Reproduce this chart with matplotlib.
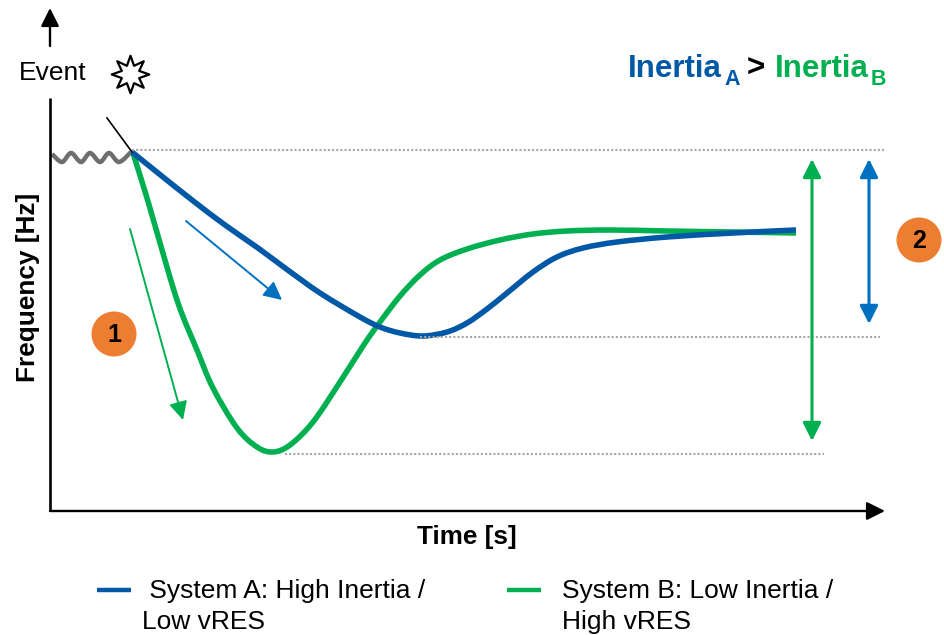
import matplotlib
matplotlib.use("Agg")
import matplotlib.pyplot as plt
from matplotlib.path import Path
from matplotlib.patches import PathPatch, Circle

# values, in image pixels (y grows downwards)
time_a = [132, 158, 192, 225, 258, 285, 320, 360, 380, 400, 423, 447, 467, 487, 507, 533, 557, 583,
          617, 667, 733, 796]
freq_a = [152, 173, 200, 225, 248, 268, 293, 317, 327, 333, 336, 332, 323, 309, 293, 272, 257, 248,
          242, 237, 233, 230]
time_b = [133, 147, 158, 178, 197, 213, 237, 257, 273, 290, 313, 340, 365, 380, 400, 420, 440, 467,
          500, 533, 567, 610, 667, 733, 796]
freq_b = [153, 198, 236, 303, 350, 388, 428, 447, 452, 445, 422, 382, 343, 322, 296, 275, 260, 249,
          240, 234, 231, 230, 231, 232, 233]
wave_x = [52, 62, 71, 81, 90, 100, 109, 119, 131]
wave_y = [154, 162, 153, 162, 153, 162, 153, 162, 152]

label_a = " System A: High Inertia /\nLow vRES"
label_b = "System B: Low Inertia /\nHigh vRES"

BLUE = "#0058A6"
GREEN = "#00B050"
ARROW_BLUE = "#0070C0"
ORANGE = "#ED7D31"
GREY = "#A6A6A6"


def smooth_path(xs, ys):
    # bezier handles through the read points so the curve has no corners
    pts = list(zip(xs, ys))
    verts = [pts[0]]
    codes = [Path.MOVETO]
    for i in range(len(pts) - 1):
        p0 = pts[max(i - 1, 0)]
        p1 = pts[i]
        p2 = pts[i + 1]
        p3 = pts[min(i + 2, len(pts) - 1)]
        verts.append((p1[0] + (p2[0] - p0[0]) / 6, p1[1] + (p2[1] - p0[1]) / 6))
        verts.append((p2[0] - (p3[0] - p1[0]) / 6, p2[1] - (p3[1] - p1[1]) / 6))
        verts.append(p2)
        codes += [Path.CURVE4] * 3
    return Path(verts, codes)


def arrow(ax, start, end, color, lw, length=11, width=5.5, head="-|>"):
    style = f"{head},head_length={length},head_width={width}"
    ax.annotate("", xy=end, xytext=start,
                arrowprops=dict(arrowstyle=style, color=color, lw=lw, mutation_scale=1,
                                shrinkA=0, shrinkB=0))


def main():
    plt.rcParams["font.family"] = ["Liberation Sans", "DejaVu Sans"]
    fig = plt.figure(figsize=(9.44, 6.35), dpi=100)
    ax = fig.add_axes([0, 0, 1, 1])
    ax.set_xlim(0, 944)
    ax.set_ylim(635, 0)
    ax.axis("off")

    # axes, the y axis is broken by the Event label
    ax.plot([50, 50], [98, 511], color="black", lw=1.9, solid_capstyle="butt")
    arrow(ax, (50, 46), (50, 8), "black", 1.7)
    arrow(ax, (50, 511), (885, 511), "black", 1.7)

    # dotted guides
    ax.plot([132, 884], [150, 150], color=GREY, lw=1.5, ls=(0, (1, 1)))
    ax.plot([420, 880], [337, 337], color=GREY, lw=1.5, ls=(0, (1, 1)))
    ax.plot([285, 824], [454, 454], color=GREY, lw=1.5, ls=(0, (1, 1)))

    # pre-event ripple
    ax.add_patch(PathPatch(smooth_path(wave_x, wave_y), fc="none", ec="#6E6E6E", lw=3.2))

    ax.plot([107, 132], [118, 152], color="black", lw=1.2)
    ax.add_patch(PathPatch(smooth_path(time_b, freq_b), fc="none", ec=GREEN, lw=4, capstyle="butt"))
    ax.add_patch(PathPatch(smooth_path(time_a, freq_a), fc="none", ec=BLUE, lw=4, capstyle="butt"))

    # event star
    star = Path.unit_regular_star(8, 0.5)
    ax.plot([130], [74], marker=star, ms=27, mfc="white", mec="black", mew=1.6)
    ax.text(19, 73, "Event", fontsize=19, va="center", ha="left")

    # slope arrows
    arrow(ax, (186, 221), (282, 300), ARROW_BLUE, 1.4, 11, 5.5)
    arrow(ax, (130, 229), (183, 420), GREEN, 1.4, 11, 5.5)

    # deviation arrows
    arrow(ax, (812, 441), (812, 159), GREEN, 2.2, 11, 5.5, "<|-|>")
    arrow(ax, (869, 324), (869, 159), ARROW_BLUE, 2.2, 11, 5.5, "<|-|>")

    # numbered markers
    for x, y, num in [(114, 334, "1"), (919, 240, "2")]:
        ax.add_patch(Circle((x, y), 22.5, fc=ORANGE, ec="none"))
        ax.text(x, y + 1, num, fontsize=18, fontweight="bold", ha="center", va="center")

    # coloured heading
    ax.text(628, 77, "Inertia", color=BLUE, fontsize=22.5, fontweight="bold", va="baseline")
    ax.text(724, 85, "A", color=BLUE, fontsize=15.5, fontweight="bold", va="baseline")
    ax.text(747, 77, ">", color="black", fontsize=22.5, fontweight="bold", va="baseline")
    ax.text(775, 77, "Inertia", color=GREEN, fontsize=22.5, fontweight="bold", va="baseline")
    ax.text(871, 85, "B", color=GREEN, fontsize=15.5, fontweight="bold", va="baseline")

    # axis titles
    ax.text(28, 287, "Frequency [Hz]", rotation=90, fontsize=18.9, fontweight="bold",
            ha="center", va="center")
    ax.text(467, 537, "Time [s]", fontsize=18.8, fontweight="bold", ha="center", va="center")

    # legend
    ax.plot([97, 131], [590, 590], color=BLUE, lw=3.2, solid_capstyle="butt")
    ax.plot([507, 541], [590, 590], color=GREEN, lw=3.2, solid_capstyle="butt")
    ax.text(142, 606.5, label_a, fontsize=19, ha="left", va="center", linespacing=1.35)
    ax.text(562, 606.5, label_b, fontsize=19, ha="left", va="center", linespacing=1.35)

    fig.savefig("out.png", dpi=100)


if __name__ == "__main__":
    main()
